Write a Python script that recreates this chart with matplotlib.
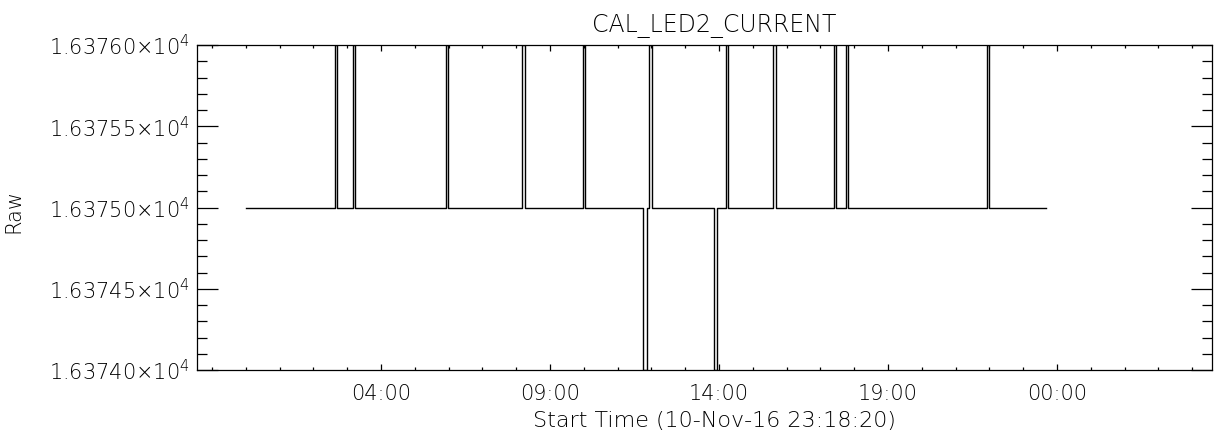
import matplotlib
matplotlib.use("Agg")
import matplotlib.pyplot as plt
from matplotlib.ticker import FixedLocator, MultipleLocator, FuncFormatter

# hours counted from 10-Nov-16 00:00
t_start = 24.006
t_end = 47.674
base_level = 16375.0

# short excursions up to 16376 (rise, fall)
pulse_rise = [26.630, 27.163, 29.923, 32.180, 33.967, 35.929, 38.198, 39.598, 41.402, 41.743, 45.920]
pulse_fall = [26.689, 27.231, 29.991, 32.251, 34.035, 36.003, 38.272, 39.672, 41.476, 41.817, 45.997]
pulse_level = 16376.0

# short excursions down to 16374
dip_drop = [35.760, 37.861]
dip_back = [35.861, 37.932]
dip_level = 16374.0

events = [(a, b, pulse_level) for a, b in zip(pulse_rise, pulse_fall)]
events += [(a, b, dip_level) for a, b in zip(dip_drop, dip_back)]
events.sort()

xs = [t_start]
ys = [base_level]
for a, b, lev in events:
    xs += [a, a, b, b]
    ys += [base_level, lev, lev, base_level]
xs.append(t_end)
ys.append(base_level)

y_ticks = [16374.0, 16374.5, 16375.0, 16375.5, 16376.0]
y_labels = [r"1.63740$\times$10$^{4}$", r"1.63745$\times$10$^{4}$", r"1.63750$\times$10$^{4}$",
            r"1.63755$\times$10$^{4}$", r"1.63760$\times$10$^{4}$"]
x_ticks = [28, 33, 38, 43, 48]

plt.rcParams['font.family'] = ['DejaVu Sans']
plt.rcParams['font.weight'] = 'light'
plt.rcParams['axes.titleweight'] = 'light'
plt.rcParams['axes.labelweight'] = 'light'
plt.rcParams['mathtext.fontset'] = 'custom'
plt.rcParams['mathtext.rm'] = 'DejaVu Sans:light'

fig = plt.figure(figsize=(12.31, 4.40), dpi=100)
ax = fig.add_axes([197 / 1231, 1 - 370 / 440, (1212 - 197) / 1231, (370 - 45) / 440])

ax.plot(xs, ys, color='black', lw=1.0)

ax.set_xlim(22.556, 52.586)
ax.set_ylim(16374.0, 16376.0)

ax.yaxis.set_major_locator(FixedLocator(y_ticks))
ax.set_yticklabels(y_labels)
ax.yaxis.set_minor_locator(MultipleLocator(0.1))
ax.xaxis.set_major_locator(FixedLocator(x_ticks))
ax.xaxis.set_minor_locator(MultipleLocator(1))
ax.xaxis.set_major_formatter(FuncFormatter(lambda v, p: f"{int(round(v)) % 24:02d}:00"))

ax.tick_params(axis='both', which='both', direction='in', top=True, right=True,
               color='black', labelcolor='black', labelsize=15, width=0.9)
ax.tick_params(axis='y', which='major', length=15, pad=5)
ax.tick_params(axis='y', which='minor', length=7.2)
ax.tick_params(axis='x', which='major', length=4.3, pad=10)
ax.tick_params(axis='x', which='minor', length=2.4)

for s in ax.spines.values():
    s.set_linewidth(0.9)

ax.set_title("CAL_LED2_CURRENT", fontsize=17, pad=9, color='black', x=0.51)
ax.set_xlabel("Start Time (10-Nov-16 23:18:20)", fontsize=16, labelpad=0, color='black')
ax.xaxis.set_label_coords(0.51, -0.125)
ax.set_ylabel("Raw", fontsize=15, color='black')
ax.yaxis.set_label_coords(-0.171, 0.49)

fig.savefig("out.png", dpi=100)
